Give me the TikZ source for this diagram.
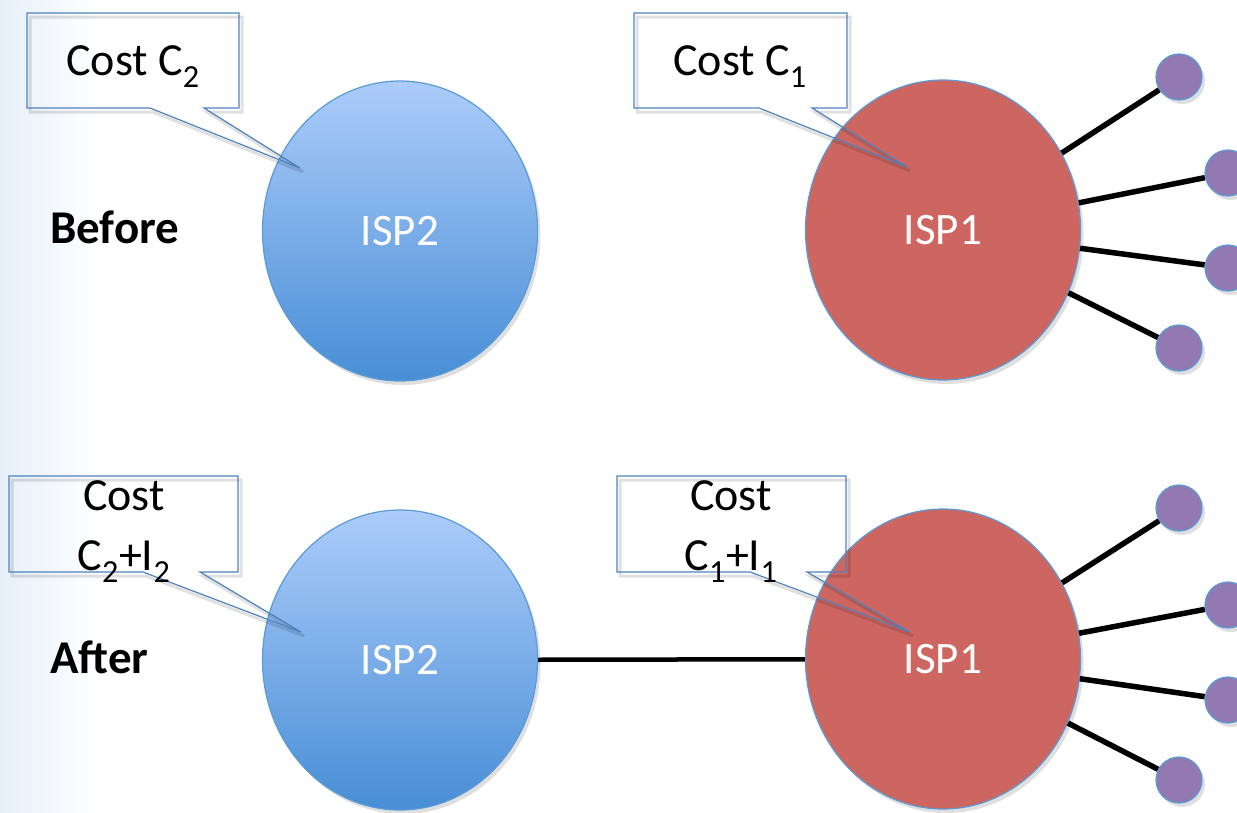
\documentclass[tikz,border=0pt]{standalone}
\usepackage{fontspec}
\setmainfont{Carlito}
\usetikzlibrary{shapes.geometric,shadows}
\definecolor{blueTop}{RGB}{172,204,250}
\definecolor{blueBot}{RGB}{72,142,214}
\definecolor{redFill}{RGB}{205,102,96}
\definecolor{edgeBlue}{RGB}{91,155,213}
\definecolor{calloutEdge}{RGB}{79,129,189}
\definecolor{purpleFill}{RGB}{147,121,177}
\definecolor{bgLeft}{RGB}{230,239,248}
\begin{document}
\begin{tikzpicture}[x=1pt,y=-1pt,
  isp/.style={ellipse, minimum width=275pt, minimum height=300pt, inner sep=0pt,
    draw=edgeBlue, line width=1.2pt, text=white, font=\fontsize{45}{50}\selectfont,
    drop shadow={opacity=0.25, shadow xshift=3pt, shadow yshift=-4pt}},
  ispblue/.style={isp, top color=blueTop, bottom color=blueBot},
  ispred/.style={isp, fill=redFill},
  sat/.style={circle, minimum size=46pt, inner sep=0pt, fill=purpleFill,
    draw=edgeBlue, line width=1.2pt,
    drop shadow={opacity=0.25, shadow xshift=3pt, shadow yshift=-4pt}},
  link/.style={line width=5.5pt, black},
  callout/.style={draw=calloutEdge, line width=1.2pt, line join=miter,
    preaction={draw=black, draw opacity=0.12, line width=3pt, transform canvas={shift={(3pt,-4pt)}}}},
  ctext/.style={anchor=base, inner sep=0pt, font=\fontsize{46}{52}\selectfont},
  phase/.style={anchor=base west, inner sep=0pt, font=\fontsize{47}{52}\selectfont\bfseries},
]
\useasboundingbox (0,0) rectangle (1237,812);
\clip (0,0) rectangle (1237,812);
\shade[left color=bgLeft, right color=white] (0,0) rectangle (100,812);

% ---------- Before ----------
\node[ispblue] (isp2a) at (400,231) {ISP2};
\node[ispred]  (isp1a) at (943,230) {ISP1};

\node[sat] (sa1) at (1179,77) {};
\node[sat] (sa2) at (1228,173) {};
\node[sat] (sa3) at (1228,268) {};
\node[sat] (sa4) at (1179,348) {};
\draw[link] (isp1a) -- (sa1);
\draw[link] (isp1a) -- (sa2);
\draw[link] (isp1a) -- (sa3);
\draw[link] (isp1a) -- (sa4);

\node[phase] (before) at (50,243) {Before};

% callout Cost C2
\coordinate (tipA) at (300,168);
\draw[callout] (27,13) -- (239,13) -- (239,108) -- (204,108) -- (tipA) -- (150,108) -- (27,108) -- cycle;
\node[ctext] (cA) at (133,75) {Cost C\textsubscript{2}};

% callout Cost C1
\coordinate (tipB) at (907,167);
\draw[callout] (634,13) -- (847,13) -- (847,108) -- (812,108) -- (tipB) -- (759,108) -- (634,108) -- cycle;
\node[ctext] (cB) at (740,75) {Cost C\textsubscript{1}};

% ---------- After ----------
\node[ispblue] (isp2b) at (400,660) {ISP2};
\node[ispred]  (isp1b) at (943,659) {ISP1};
\draw[line width=4.5pt, black] (isp2b) -- (isp1b);

\node[sat] (sb1) at (1179,508) {};
\node[sat] (sb2) at (1228,605) {};
\node[sat] (sb3) at (1228,700) {};
\node[sat] (sb4) at (1179,780) {};
\draw[link] (isp1b) -- (sb1);
\draw[link] (isp1b) -- (sb2);
\draw[link] (isp1b) -- (sb3);
\draw[link] (isp1b) -- (sb4);

\node[phase] (after) at (50,673) {After};

% callout Cost C2+I2
\coordinate (tipC) at (301,632);
\draw[callout] (9,476) -- (238,476) -- (238,572) -- (200,572) -- (tipC) -- (143,572) -- (9,572) -- cycle;
\node[ctext] (cC1) at (124,510) {Cost};
\node[ctext] (cC2) at (124,570) {C\textsubscript{2}+I\textsubscript{2}};

% callout Cost C1+I1
\coordinate (tipD) at (910,632);
\draw[callout] (617,476) -- (846,476) -- (846,572) -- (807,572) -- (tipD) -- (750,572) -- (617,572) -- cycle;
\node[ctext] (cD1) at (731,510) {Cost};
\node[ctext] (cD2) at (731,570) {C\textsubscript{1}+I\textsubscript{1}};
\end{tikzpicture}
\end{document}
